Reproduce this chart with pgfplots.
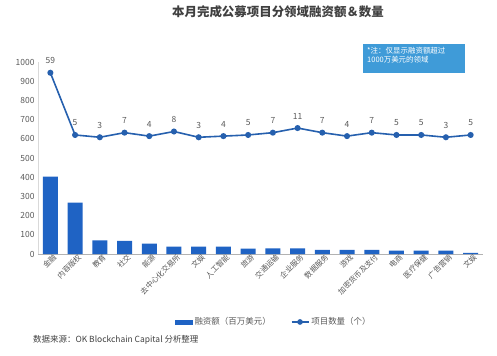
\documentclass[border=0pt]{standalone}
\usepackage{fontspec}
\setmainfont{Noto Sans CJK SC}
\usepackage{pgfplots}
\pgfplotsset{compat=1.18}
\definecolor{barblue}{HTML}{1F63C4}
\definecolor{lineblue}{HTML}{2660AE}
\definecolor{txt}{HTML}{595959}
\definecolor{notebg}{HTML}{3F9BD8}
\definecolor{titlec}{HTML}{404040}
\begin{document}
\begin{tikzpicture}[x=1bp,y=1bp]
\path[use as bounding box] (0,0) rectangle (497,355);
\begin{axis}[at={(38bp,101bp)}, anchor=south west, scale only axis,
  width=445bp, height=192bp,
  xmin=-0.5, xmax=17.5, ymin=0, ymax=1000,
  xtick={0,...,17},
  xticklabels={金融,内容版权,教育,社交,能源,去中心化交易所,文娱,人工智能,旅游,交通运输,企业服务,数据服务,游戏,加密货币及支付,电商,医疗保健,广告营销,文娱},
  ytick={0,100,...,1000},
  axis x line*=bottom, axis y line*=left,
  x axis line style={draw=black!30, -},
  y axis line style={draw=black!15, -},
  major tick length=0pt,
  tick style={draw=none},
  yticklabel style={font=\fontsize{8.5}{9}\selectfont, text=txt, /pgf/number format/1000 sep={}},
  xticklabel style={font=\fontsize{7.5}{8}\selectfont, text=txt, rotate=45, anchor=north east, inner sep=1pt, xshift=3bp},
  /pgf/number format/assume math mode=true,
  /pgf/number format/1000 sep={},
]
\addplot[ybar, bar width=15bp, fill=barblue, draw=none] coordinates {
(0,403) (1,267) (2,71) (3,69) (4,54) (5,39) (6,39) (7,39) (8,28) (9,29) (10,29) (11,22) (12,22) (13,22) (14,17) (15,17) (16,17) (17,6)};
\end{axis}
\begin{axis}[at={(38bp,101bp)}, anchor=south west, scale only axis,
  width=445bp, height=192bp,
  xmin=-0.5, xmax=17.5, ymin=-98.33, ymax=68.33,
  axis lines=none, ticks=none,
  /pgf/number format/assume math mode=true,
  legend columns=2,
  legend style={at={(0.53,-0.354)}, anchor=center, draw=none, fill=none,
    font=\fontsize{8.5}{9}\selectfont, text=txt,
    /tikz/every even column/.append style={column sep=18bp}},
  nodes near coords,
  nodes near coords style={font=\fontsize{8.5}{9}\selectfont, text=txt, anchor=center, yshift=12bp, /pgf/number format/assume math mode=true},
]
\addlegendimage{legend image code/.code={\fill[barblue] (0bp,-2bp) rectangle (17bp,2bp);}}
\addlegendentry{融资额（百万美元）}
\addplot[lineblue, line width=1.6bp, mark=*, mark size=2.2bp,
  mark options={fill=lineblue, draw=lineblue},
  legend image code/.code={\draw[lineblue, line width=1.6bp] (0bp,0bp) -- (17bp,0bp); \fill[lineblue] (8.5bp,0bp) circle (2bp);}]
  coordinates {
(0,59) (1,5) (2,3) (3,7) (4,4) (5,8) (6,3) (7,4) (8,5) (9,7) (10,11) (11,7) (12,4) (13,7) (14,5) (15,5) (16,3) (17,5)};
\addlegendentry{项目数量（个）}
\end{axis}
\node[font=\bfseries\fontsize{12.5}{14}\selectfont, text=titlec] at (278,343) {本月完成公募项目分领域融资额＆数量};
\fill[notebg] (363,282) rectangle (465,311);
\node[anchor=north west, align=left, text=white, font=\fontsize{7.5}{9}\selectfont, inner sep=0pt] at (367,308) {*注：仅显示融资额超过\\1000万美元的领域};
\node[anchor=west, text=titlec, font=\fontsize{8.5}{10}\selectfont, inner sep=0pt] at (33,15) {数据来源：OK Blockchain Capital 分析整理};
\end{tikzpicture}
\end{document}
